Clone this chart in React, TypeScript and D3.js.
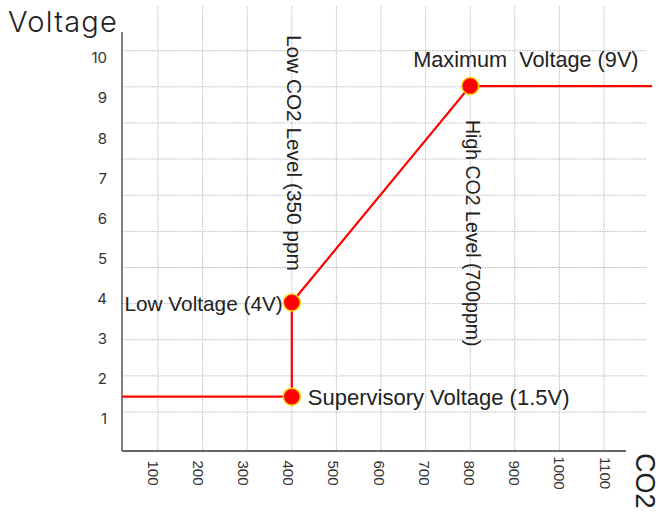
import React, { useEffect, useRef } from 'react';
import * as d3 from 'd3';

// sensor output curve: CO2 (ppm) vs output voltage
const co2 = [20, 400, 400, 800, 1208];
const voltage = [1.55, 1.55, 3.9, 9.3, 9.3];

// marked points on the curve
const dotCo2 = [400, 400, 800];
const dotVoltage = [1.55, 3.9, 9.3];

const xTicks = [100, 200, 300, 400, 500, 600, 700, 800, 900, 1000, 1100];
const yTicks = [1, 2, 3, 4, 5, 6, 7, 8, 9, 10];
const gridRows = [0, 1, 2, 3, 4, 5, 6, 7, 8, 9, 10];

const W = 661;
const H = 514;

const App = () => {
  const svgRef = useRef(null);

  useEffect(() => {
    const svg = d3.select(svgRef.current);
    svg.selectAll('*').remove();

    const left = 122;
    const bottom = 451;

    const xScale = d3.scaleLinear().domain([100, 1100]).range([158, 604]);
    const xLabel = d3.scaleLinear().domain([100, 1100]).range([153, 605]);
    const yScale = d3.scaleLinear().domain([1, 10]).range([418.7, 58]);
    const yGrid = d3.scaleLinear().domain([0, 10]).range([412, 50.7]);

    const armFont = '"Liberation Sans", Arial, sans-serif';
    const roundFont = 'Inter, "Open Sans", sans-serif';

    /* grid -------------------------------*/
    const grid = svg.append('g')
      .attr('stroke', '#bdbdbd')
      .attr('stroke-width', 1)
      .attr('stroke-dasharray', '1.5,1');

    grid.selectAll('.vgrid')
      .data(xTicks)
      .join('line')
      .attr('x1', d => xScale(d)).attr('x2', d => xScale(d))
      .attr('y1', 6).attr('y2', bottom);

    grid.selectAll('.hgrid')
      .data(gridRows)
      .join('line')
      .attr('x1', left).attr('x2', 647)
      .attr('y1', d => yGrid(d)).attr('y2', d => yGrid(d));

    /* axes -------------------------------*/
    svg.append('line')
      .attr('x1', left).attr('x2', left)
      .attr('y1', 32).attr('y2', bottom)
      .attr('stroke', '#555').attr('stroke-width', 1.5);

    svg.append('line')
      .attr('x1', left).attr('x2', 626)
      .attr('y1', bottom).attr('y2', bottom)
      .attr('stroke', '#666').attr('stroke-width', 2);

    svg.selectAll('.ytick')
      .data(yTicks)
      .join('text')
      .attr('x', 107)
      .attr('y', d => yScale(d))
      .attr('dy', '0.36em')
      .attr('text-anchor', 'end')
      .attr('font-family', roundFont)
      .attr('font-size', 15)
      .attr('fill', '#333')
      .text(d => d);

    svg.selectAll('.xtick')
      .data(xTicks)
      .join('text')
      .attr('transform', d => `translate(${xLabel(d) - 5.4}, 473) rotate(90)`)
      .attr('text-anchor', 'middle')
      .attr('font-family', armFont)
      .attr('font-size', 15)
      .attr('fill', '#333')
      .text(d => d);

    svg.append('text')
      .attr('x', 8).attr('y', 32)
      .attr('font-family', roundFont)
      .attr('font-size', 29)
      .attr('font-weight', 300)
      .attr('letter-spacing', 1.2)
      .attr('fill', '#222')
      .text('Voltage');

    svg.append('text')
      .attr('transform', 'translate(636, 453) rotate(90)')
      .attr('font-family', armFont)
      .attr('font-size', 27)
      .attr('fill', '#222')
      .text('CO2');

    /* curve -------------------------------*/
    const pts = co2.map((c, i) => [c, voltage[i]]);
    const line = d3.line()
      .x(d => xScale(d[0]))
      .y(d => yScale(d[1]));

    svg.append('path')
      .datum(pts)
      .attr('d', line)
      .attr('fill', 'none')
      .attr('stroke', '#ff0000')
      .attr('stroke-width', 2.2);

    svg.selectAll('.dot')
      .data(dotCo2.map((c, i) => [c, dotVoltage[i]]))
      .join('circle')
      .attr('cx', d => xScale(d[0]))
      .attr('cy', d => yScale(d[1]))
      .attr('r', 8.5)
      .attr('fill', '#ff0000')
      .attr('stroke', '#ffd700')
      .attr('stroke-width', 1.5);

    /* annotations -------------------------------*/
    const note = (txt, x, y, anchor, rot, size) => {
      svg.append('text')
        .attr('transform', `translate(${x}, ${y})${rot ? ' rotate(90)' : ''}`)
        .attr('text-anchor', anchor)
        .attr('font-family', armFont)
        .attr('font-size', size)
        .attr('fill', '#222')
        .style('white-space', 'pre')
        .text(txt);
    };

    note('Maximum  Voltage (9V)', xScale(800) - 57, yScale(9.3) - 19, 'start', false, 21.7);
    note('Low Voltage (4V)', xScale(400) - 9, yScale(3.9) + 9, 'end', false, 20.8);
    note('Supervisory Voltage (1.5V)', xScale(400) + 16, yScale(1.55) + 8, 'start', false, 22);
    note('Low CO2 Level (350 ppm', xScale(400) - 5, 35, 'start', true, 20.8);
    note('High CO2 Level (700ppm)', xScale(800) - 4, 120, 'start', true, 19.5);
  }, []);

  return (
    <svg
      ref={svgRef}
      width={W}
      height={H}
      style={{ position: 'absolute', left: 0, top: 0, background: '#fff' }}
    />
  );
};

export default App;
